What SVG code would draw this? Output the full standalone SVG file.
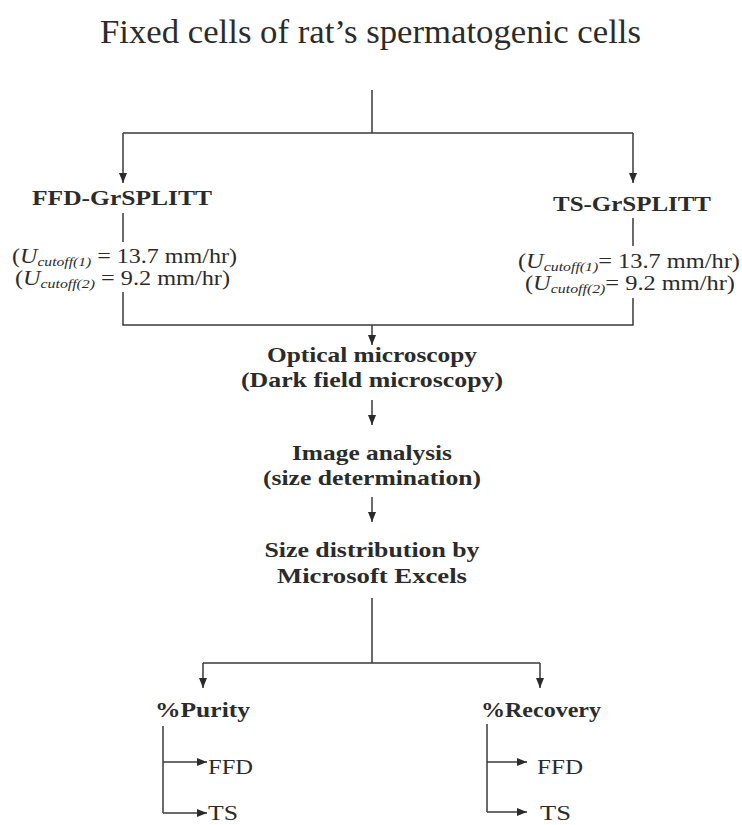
<svg xmlns="http://www.w3.org/2000/svg" width="742" height="825" viewBox="0 0 742 825" font-family="'Liberation Serif', 'Times New Roman', Times, serif">
<style>
text{fill:#2b2b2b}
.t{font-size:34px}
.b{font-size:21px;font-weight:bold}
.r{font-size:20px}
.s{font-size:13px;font-style:italic}
.i{font-style:italic}
.ln{stroke:#3a3a3a;stroke-width:1.5;fill:none}
</style>
<defs>
<marker id="ah" markerUnits="userSpaceOnUse" markerWidth="10" markerHeight="10" viewBox="0 0 10 10" refX="10" refY="5" orient="auto">
<path d="M0,1 L10,5 L0,9 Z" fill="#2b2b2b"/>
</marker>
</defs>
<g id="title"><text class="t" x="100" y="43" textLength="541" lengthAdjust="spacingAndGlyphs">Fixed cells of rat’s spermatogenic cells</text></g>
<g id="ffd">
<text class="b" x="122" y="205" text-anchor="middle" textLength="180" lengthAdjust="spacingAndGlyphs">FFD-GrSPLITT</text>
<text class="r" x="12" y="263" textLength="225" lengthAdjust="spacingAndGlyphs">(<tspan class="i">U</tspan><tspan class="s" dy="3">cutoff(1)</tspan><tspan dy="-3"> = 13.7 mm/hr)</tspan></text>
<text class="r" x="15" y="285" textLength="215" lengthAdjust="spacingAndGlyphs">(<tspan class="i">U</tspan><tspan class="s" dy="3">cutoff(2)</tspan><tspan dy="-3">  = 9.2 mm/hr)</tspan></text>
</g>
<g id="ts">
<text class="b" x="632" y="211" text-anchor="middle" textLength="158" lengthAdjust="spacingAndGlyphs">TS-GrSPLITT</text>
<text class="r" x="518" y="268" textLength="222" lengthAdjust="spacingAndGlyphs">(<tspan class="i">U</tspan><tspan class="s" dy="3">cutoff(1)</tspan><tspan dy="-3">= 13.7 mm/hr)</tspan></text>
<text class="r" x="525" y="290" textLength="210" lengthAdjust="spacingAndGlyphs">(<tspan class="i">U</tspan><tspan class="s" dy="3">cutoff(2)</tspan><tspan dy="-3">= 9.2 mm/hr)</tspan></text>
</g>
<g id="optical">
<text class="b" x="372" y="362" text-anchor="middle" textLength="210" lengthAdjust="spacingAndGlyphs">Optical microscopy</text>
<text class="b" x="372" y="387" text-anchor="middle" textLength="262" lengthAdjust="spacingAndGlyphs">(Dark field microscopy)</text>
</g>
<g id="image">
<text class="b" x="372" y="460" text-anchor="middle" textLength="160" lengthAdjust="spacingAndGlyphs">Image analysis</text>
<text class="b" x="372" y="485" text-anchor="middle" textLength="218" lengthAdjust="spacingAndGlyphs">(size determination)</text>
</g>
<g id="size">
<text class="b" x="372" y="557" text-anchor="middle" textLength="215" lengthAdjust="spacingAndGlyphs">Size distribution by</text>
<text class="b" x="372" y="583" text-anchor="middle" textLength="190" lengthAdjust="spacingAndGlyphs">Microsoft Excels</text>
</g>
<g id="purity">
<text class="b" x="155" y="717" textLength="95" lengthAdjust="spacingAndGlyphs">%Purity</text>
<text class="r" x="208" y="774" textLength="45" lengthAdjust="spacingAndGlyphs">FFD</text>
<text class="r" x="208" y="820" textLength="30" lengthAdjust="spacingAndGlyphs">TS</text>
</g>
<g id="recovery">
<text class="b" x="481" y="717" textLength="120" lengthAdjust="spacingAndGlyphs">%Recovery</text>
<text class="r" x="537" y="774" textLength="46" lengthAdjust="spacingAndGlyphs">FFD</text>
<text class="r" x="540" y="820" textLength="31" lengthAdjust="spacingAndGlyphs">TS</text>
</g>
<g id="connectors">
<path class="ln" d="M372,90 V133 M123,133 H633"/>
<path class="ln" d="M123,133 V183" marker-end="url(#ah)"/>
<path class="ln" d="M633,133 V183" marker-end="url(#ah)"/>
<path class="ln" d="M123,213 V242 M633,218 V246"/>
<path class="ln" d="M123,292 V325 H633 V298"/>
<path class="ln" d="M372,325 V345" marker-end="url(#ah)"/>
<path class="ln" d="M372,400 V425" marker-end="url(#ah)"/>
<path class="ln" d="M372,497 V522" marker-end="url(#ah)"/>
<path class="ln" d="M372,598 V663 M203,663 H540"/>
<path class="ln" d="M203,663 V688" marker-end="url(#ah)"/>
<path class="ln" d="M540,663 V688" marker-end="url(#ah)"/>
<path class="ln" d="M163,726 V813"/>
<path class="ln" d="M163,762 H207" marker-end="url(#ah)"/>
<path class="ln" d="M163,813 H207" marker-end="url(#ah)"/>
<path class="ln" d="M487,724 V812"/>
<path class="ln" d="M487,762 H527" marker-end="url(#ah)"/>
<path class="ln" d="M487,812 H527" marker-end="url(#ah)"/>
</g>
</svg>
